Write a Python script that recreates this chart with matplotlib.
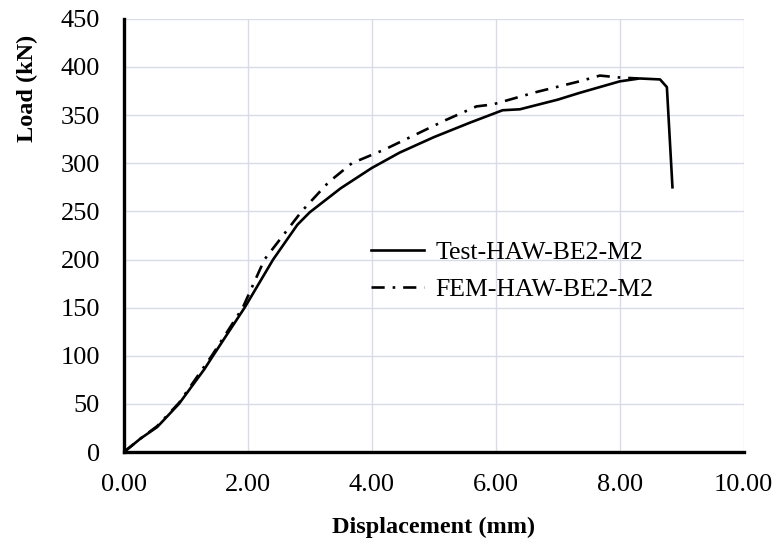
import matplotlib.pyplot as plt

plt.rcParams["font.family"] = ["Liberation Serif", "DejaVu Serif"]

# load-displacement readings
test_disp = [0, 0.1, 0.27, 0.54, 0.89, 1.30, 1.43, 1.95, 2.41, 2.8, 3.0, 3.2, 3.5, 4.0,
             4.45, 5.0, 5.58, 6.11, 6.39, 7.0, 7.35, 8.0, 8.32, 8.65, 8.76, 8.85]
test_load = [0, 5, 14, 26, 50, 86, 99, 150, 200, 236, 249, 259, 274, 295,
             311, 327, 342, 355, 356, 366, 373, 385, 388, 387, 379, 275]

fem_disp = [0, 0.27, 0.54, 0.89, 1.43, 1.92, 2.27, 2.87, 3.3, 3.68, 4.2,
            5.2, 5.69, 5.95, 6.66, 7.35, 7.68, 8.0, 8.3]
fem_load = [0, 14, 27, 51, 101, 150, 200, 250, 280, 300, 314,
            345, 359, 361, 374, 385, 391, 389, 388]

x_ticks = [0, 2, 4, 6, 8, 10]
y_ticks = list(range(0, 451, 50))

fig = plt.figure(figsize=(7.78, 5.52), dpi=100)
ax = fig.add_axes([0.159, 0.181, 0.797, 0.785])

ax.plot(test_disp, test_load, color="black", lw=1.9, label="Test-HAW-BE2-M2")
ax.plot(fem_disp, fem_load, color="black", lw=1.9, linestyle=(0, (5, 3, 1, 3)),
        label="FEM-HAW-BE2-M2")

ax.set_xlim(0, 10)
ax.set_ylim(0, 450)
ax.set_xticks(x_ticks)
ax.set_xticklabels([f"{t:.2f}" for t in x_ticks])
ax.set_yticks(y_ticks)
ax.grid(True, color="#d9dce8", lw=1.0)
ax.set_axisbelow(True)

for side in ("top", "right"):
    ax.spines[side].set_visible(False)
for side in ("left", "bottom"):
    ax.spines[side].set_linewidth(2.4)
    ax.spines[side].set_color("black")
ax.tick_params(length=0, labelsize=19)
ax.tick_params(axis="x", pad=16)
ax.tick_params(axis="y", pad=17)

ax.set_xlabel("Displacement (mm)", fontsize=17.5, fontweight="bold", labelpad=15)
ax.set_ylabel("Load (kN)", fontsize=17.5, fontweight="bold")
# y label sits high, next to the upper tick labels
ax.yaxis.set_label_coords(-0.138, 0.84)

ax.legend(loc="upper left", bbox_to_anchor=(0.362, 0.54), frameon=False,
          fontsize=18.5, handlelength=2.05, handletextpad=0.45, labelspacing=0.55)

fig.savefig("out.png", dpi=100)
